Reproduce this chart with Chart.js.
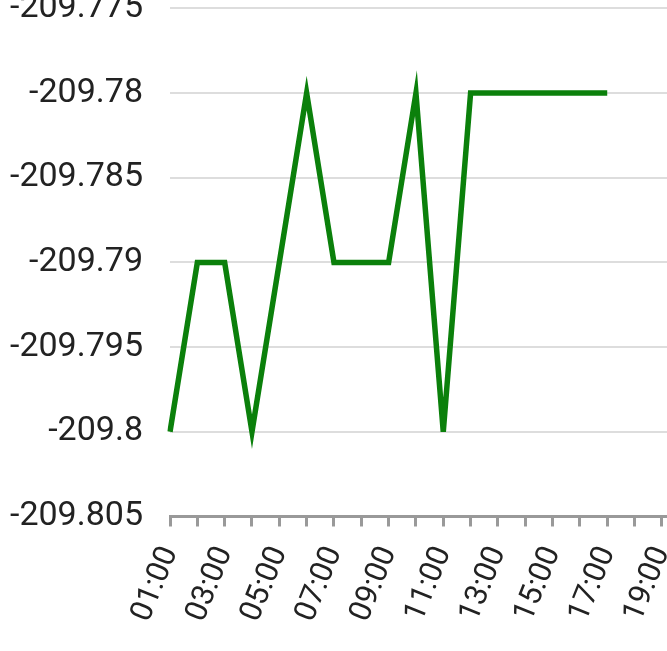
<!DOCTYPE html>
<html>
<head>
<meta charset="utf-8">
<script src="https://cdn.jsdelivr.net/npm/chart.js@4/dist/chart.umd.min.js"></script>
<style>
  html, body { margin: 0; padding: 0; background: #fff; overflow: hidden; }
  #wrap { position: absolute; left: -17px; top: -39px; width: 865px; height: 681px; }
</style>
</head>
<body>
<div id="wrap"><canvas id="chartCanvas"></canvas></div>
<script>
const hours = [
  "01:00", "02:00", "03:00", "04:00", "05:00", "06:00", "07:00", "08:00",
  "09:00", "10:00", "11:00", "12:00", "13:00", "14:00", "15:00", "16:00",
  "17:00", "18:00", "19:00", "20:00", "21:00", "22:00", "23:00", "24:00"
];
const values = [
  -209.80, -209.79, -209.79, -209.80, -209.79, -209.78, -209.79, -209.79,
  -209.79, -209.78, -209.80, -209.78, -209.78, -209.78, -209.78, -209.78,
  -209.78, null, null, null, null, null, null, null
];
const yMin = -209.805;
const yMax = -209.775;
const yStep = 0.005;

const ctx = document.getElementById("chartCanvas").getContext("2d");
new Chart(ctx, {
  type: "line",
  data: {
    labels: hours,
    datasets: [{
      data: values,
      borderColor: "#0b800b",
      borderWidth: 5.5,
      pointRadius: 0,
      tension: 0,
      fill: false,
    }],
  },
  options: {
    responsive: true,
    maintainAspectRatio: false,
    animation: false,
    layout: { padding: 0 },
    plugins: { legend: { display: false }, tooltip: { enabled: false } },
    scales: {
      y: {
        min: yMin,
        max: yMax,
        ticks: {
          stepSize: yStep,
          color: "#222",
          padding: 27,
          font: { family: "Roboto", size: 34 },
          callback: (v) => String(Number(Number(v).toFixed(3))),
        },
        grid: { color: "#dddddd", lineWidth: 2, drawTicks: false },
        border: { display: false },
      },
      x: {
        ticks: {
          color: "#222",
          autoSkip: false,
          minRotation: 68,
          maxRotation: 68,
          padding: 15,
          font: { family: "Roboto", size: 31 },
          callback: (val, idx) => (idx % 2 === 0 ? hours[idx] : ""),
        },
        grid: { drawOnChartArea: false, drawTicks: true, tickLength: 10, color: "#999", lineWidth: 3 },
        border: { display: true, color: "#999", width: 3 },
      },
    },
  },
});
</script>
</body>
</html>
